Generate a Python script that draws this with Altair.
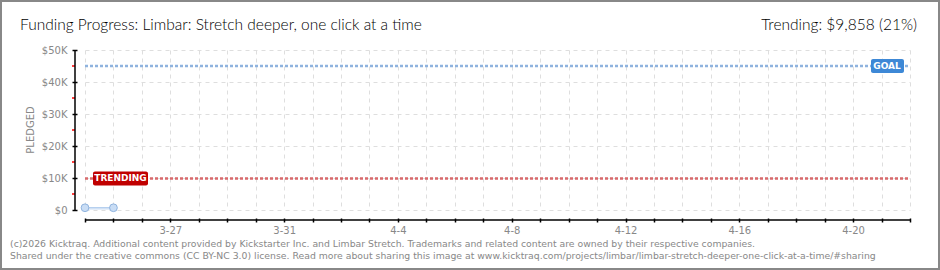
import altair as alt
import pandas as pd

# ---------------- data ----------------
dates = ["2026-03-24", "2026-03-25"]
pledged = [700, 700]
goal_value = 45000
trending_value = 9858
trending_pct = 21
x_start = "2026-03-24"
x_end = "2026-04-22"
x_label_days = ["3-27", "3-31", "4-4", "4-8", "4-12", "4-16", "4-20"]
y_major = [0, 10000, 20000, 30000, 40000, 50000]
y_minor = [5000, 15000, 25000, 35000, 45000]
title_text = "Funding Progress: Limbar: Stretch deeper, one click at a time"
trend_text = "Trending:  $9,858 (21%)"
footer_lines = [
    "(c)2026 Kicktraq. Additional content provided by Kickstarter Inc. and Limbar Stretch. Trademarks and related content are owned by their respective companies.",
    "Shared under the creative commons (CC BY-NC 3.0) license. Read more about sharing this image at www.kicktraq.com/projects/limbar/limbar-stretch-deeper-one-click-at-a-time/#sharing",
]

W, H = 825, 160
PAD_L, PAD_T = 85, 50
FONT = "Lato"
SMALL = "DejaVu Sans"


def ms(s):
    return int(pd.Timestamp(s, tz="UTC").value // 10**6)


day_ticks = [ms(d) for d in pd.date_range(x_start, x_end, freq="D")]
x_domain = [ms(x_start), ms(x_end)]

pledge_df = pd.DataFrame({"date": dates, "value": pledged})
goal_df = pd.DataFrame({"value": [goal_value]})
trend_df = pd.DataFrame({"value": [trending_value]})
minor_df = pd.DataFrame({"value": y_minor})

label_list = "[" + ",".join("'%s'" % s for s in x_label_days) + "]"
x_label_expr = (
    "indexof(%s, utcFormat(datum.value, '%%-m-%%-d')) >= 0 ? utcFormat(datum.value, '%%-m-%%-d') : ''"
    % label_list
)

y_scale = alt.Scale(domain=[0, 50000], nice=False, zero=True)
y_axis = alt.Axis(
    values=y_major,
    title=None,
    labelExpr="datum.value == 0 ? '$0' : '$' + (datum.value / 1000) + 'K'",
    grid=True,
    gridColor="#dedede",
    gridDash=[4, 4],
    gridWidth=1,
    domain=False,
    ticks=True,
    tickColor="#000000",
    tickSize=5,
    tickWidth=1.5,
    offset=8,
    labelPadding=5,
    labelColor="#888888",
    labelFont=SMALL,
    labelFontSize=10,
)
x_axis = alt.Axis(
    values=day_ticks,
    title=None,
    labelExpr=x_label_expr,
    grid=True,
    gridColor="#dedede",
    gridDash=[4, 4],
    gridWidth=1,
    domain=False,
    ticks=True,
    tickColor="#000000",
    tickSize=4,
    tickWidth=1.5,
    offset=8,
    labelPadding=3,
    labelColor="#888888",
    labelFont=SMALL,
    labelFontSize=10,
    labelOverlap=False,
    labelFlush=False,
)


def Y(field="value"):
    return alt.Y(field + ":Q", scale=y_scale, axis=y_axis)


X = alt.X("date:T", scale=alt.Scale(type="utc", domain=x_domain), axis=x_axis)

area = alt.Chart(pledge_df).mark_area(color="#e3edf9", opacity=0.9).encode(x=X, y=Y())
line = alt.Chart(pledge_df).mark_line(color="#aac8ec", strokeWidth=1.2).encode(x=X, y=Y())
pts = alt.Chart(pledge_df).mark_point(
    filled=True, fill="#c9ddf5", stroke="#8fb3de", strokeWidth=1, size=60, opacity=1
).encode(x=X, y=Y())

goal_rule = alt.Chart(goal_df).mark_rule(
    color="#8fb3de", strokeWidth=2.5, strokeDash=[3, 2]
).encode(y=Y(), x=alt.value(0), x2=alt.value(W))
trend_rule = alt.Chart(trend_df).mark_rule(
    color="#d86a6c", strokeWidth=2.5, strokeDash=[3, 2]
).encode(y=Y(), x=alt.value(0), x2=alt.value(W))

minor_ticks = alt.Chart(minor_df).mark_rule(color="#ff0000", strokeWidth=1.5).encode(
    y=Y(), x=alt.value(-13), x2=alt.value(-10)
)

y_domain_line = alt.Chart(goal_df).mark_rule(color="#000000", strokeWidth=1.5).encode(
    x=alt.value(-10), y=alt.value(0), y2=alt.value(H)
)
x_domain_line = alt.Chart(goal_df).mark_rule(color="#000000", strokeWidth=1.5).encode(
    y=alt.value(H + 10), x=alt.value(0), x2=alt.value(W)
)

goal_box = alt.Chart(goal_df).mark_rect(
    color="#3d88d6", yOffset=-7, y2Offset=7, cornerRadius=2
).encode(y=Y(), y2=alt.Y2("value"), x=alt.value(786), x2=alt.value(819))
goal_txt = alt.Chart(goal_df).mark_text(
    text="GOAL", color="#ffffff", font=SMALL, fontSize=9, fontWeight="bold", align="center", baseline="middle"
).encode(y=Y(), x=alt.value(802))

trend_box = alt.Chart(trend_df).mark_rect(
    color="#c00000", yOffset=-7, y2Offset=7, cornerRadius=2
).encode(y=Y(), y2=alt.Y2("value"), x=alt.value(8), x2=alt.value(63))
trend_txt = alt.Chart(trend_df).mark_text(
    text="TRENDING", color="#ffffff", font=SMALL, fontSize=9, fontWeight="bold", align="center", baseline="middle"
).encode(y=Y(), x=alt.value(35.5))

title_mark = alt.Chart(goal_df).mark_text(
    text=title_text, font=FONT, fontSize=15.5, fontWeight=300, color="#000000", align="left", baseline="alphabetic"
).encode(x=alt.value(20 - PAD_L), y=alt.value(30 - PAD_T))
trend_head = alt.Chart(goal_df).mark_text(
    text=trend_text, font=FONT, fontSize=15.5, fontWeight=300, color="#000000", align="right", baseline="alphabetic"
).encode(x=alt.value(917 - PAD_L), y=alt.value(30 - PAD_T))

footer1 = alt.Chart(goal_df).mark_text(
    text=footer_lines[0], font=SMALL, fontSize=9.3, color="#888888", align="left", baseline="middle"
).encode(x=alt.value(10 - PAD_L), y=alt.value(244 - PAD_T))
footer2 = alt.Chart(goal_df).mark_text(
    text=footer_lines[1], font=SMALL, fontSize=9.3, color="#888888", align="left", baseline="middle"
).encode(x=alt.value(10 - PAD_L), y=alt.value(256 - PAD_T))

pledged_title = alt.Chart(goal_df).mark_text(
    text="PLEDGED", font=SMALL, fontSize=10, color="#888888", angle=270, align="center", baseline="middle"
).encode(x=alt.value(31 - PAD_L), y=alt.value(130 - PAD_T))

border = alt.Chart(goal_df).mark_rect(
    fill=None, stroke="#888888", strokeWidth=2
).encode(
    x=alt.value(1 - PAD_L), x2=alt.value(939 - PAD_L),
    y=alt.value(1 - PAD_T), y2=alt.value(269 - PAD_T),
)

chart = alt.layer(
    area, line, goal_rule, trend_rule, pts, minor_ticks, y_domain_line, x_domain_line,
    goal_box, goal_txt, trend_box, trend_txt,
    title_mark, trend_head, footer1, footer2, pledged_title, border,
).properties(
    width=W,
    height=H,
    autosize=alt.AutoSizeParams(type="none"),
    padding={"left": PAD_L, "top": PAD_T, "right": 940 - PAD_L - W, "bottom": 270 - PAD_T - H},
    background="#ffffff",
).configure_view(stroke=None)

chart.save("out.html", embed_options={"renderer": "svg", "actions": False})
